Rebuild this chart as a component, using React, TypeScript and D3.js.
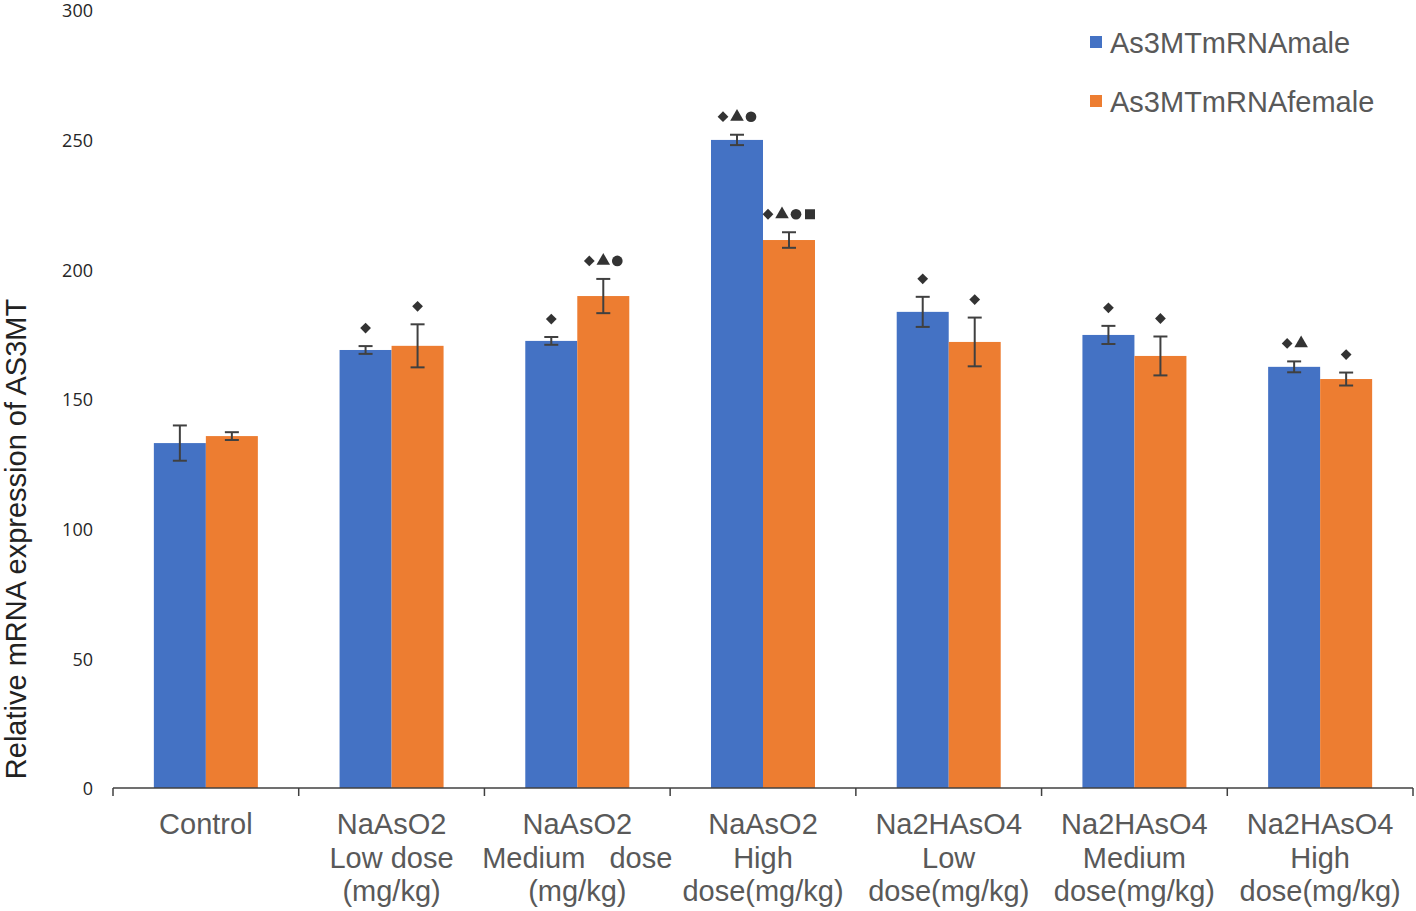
import React from "react";
import * as d3 from "d3";

const categories: string[][] = [
  ["Control"],
  ["NaAsO2", "Low dose", "(mg/kg)"],
  ["NaAsO2", "Medium   dose", "(mg/kg)"],
  ["NaAsO2", "High", "dose(mg/kg)"],
  ["Na2HAsO4", "Low", "dose(mg/kg)"],
  ["Na2HAsO4", "Medium", "dose(mg/kg)"],
  ["Na2HAsO4", "High", "dose(mg/kg)"],
];
const seriesNames = ["As3MTmRNAmale", "As3MTmRNAfemale"];
const seriesColors = ["#4472C4", "#ED7D31"];
const maleValues = [133.0, 168.9, 172.4, 249.9, 183.6, 174.7, 162.4];
const maleErrors = [6.8, 1.5, 1.5, 2.0, 5.8, 3.5, 2.1];
const femaleValues = [135.7, 170.5, 189.7, 211.3, 172.0, 166.6, 157.7];
const femaleErrors = [1.5, 8.3, 6.6, 3.0, 9.4, 7.5, 2.5];
const maleMarks = ["", "D", "D", "DTC", "D", "D", "DT"];
const femaleMarks = ["", "D", "DTC", "DTCS", "D", "D", "D"];
const yTicks = [0, 50, 100, 150, 200, 250, 300];

const W = 1416;
const H = 911;
const left = 113;
const right = 1413;
const y0 = 788;
const yTop = 10;

export default function App() {
  const x = d3.scaleBand<number>().domain(d3.range(categories.length)).range([left, right]).padding(0);
  const bw = x.bandwidth();
  const xs = d3.scaleBand<number>().domain([0, 1]).range([bw * 0.22, bw * 0.78]).padding(0);
  const y = d3.scaleLinear().domain([0, 300]).range([y0, yTop]);

  const series = [
    { values: maleValues, errors: maleErrors, marks: maleMarks },
    { values: femaleValues, errors: femaleErrors, marks: femaleMarks },
  ];

  const symFor = (c: string) => {
    if (c === "D") return d3.symbol(d3.symbolSquare, 58)();
    if (c === "T") return d3.symbol(d3.symbolTriangle, 80)();
    if (c === "C") return d3.symbol(d3.symbolCircle, 90)();
    return d3.symbol(d3.symbolSquare, 100)();
  };

  const boundaries = d3.range(categories.length + 1).map((i) => left + i * bw);
  const font = "'Liberation Sans', Arial, sans-serif";

  return (
    <svg width={W} height={H} style={{ position: "absolute", left: 0, top: 0, background: "#fff" }}>
      {yTicks.map((t) => (
        <text key={t} x={93} y={y(t) + 1} dy="0.35em" textAnchor="end" fontFamily="'Open Sans', sans-serif" fontSize={18} fill="#262626">
          {t}
        </text>
      ))}
      <text
        transform={`translate(16, ${(y0 + 290) / 2}) rotate(-90)`}
        textAnchor="middle"
        dy="0.35em"
        fontFamily={font}
        fontSize={29}
        fill="#222"
      >
        Relative mRNA expression of AS3MT
      </text>
      {series.map((s, si) =>
        s.values.map((v, ci) => {
          const bx = (x(ci) as number) + (xs(si) as number);
          const w = xs.bandwidth();
          const cx = bx + w / 2;
          const eTop = y(v + s.errors[ci]);
          const eBot = y(v - s.errors[ci]);
          const marks = s.marks[ci].split("").filter(Boolean);
          const spacing = 14;
          const mStart = cx - ((marks.length - 1) * spacing) / 2;
          const my = eTop - 18;
          return (
            <g key={`${si}-${ci}`}>
              <rect x={bx} y={y(v)} width={w} height={y0 - y(v)} fill={seriesColors[si]} />
              <line x1={cx} x2={cx} y1={eTop} y2={eBot} stroke="#404040" strokeWidth={2} />
              <line x1={cx - 7} x2={cx + 7} y1={eTop} y2={eTop} stroke="#404040" strokeWidth={2} />
              <line x1={cx - 7} x2={cx + 7} y1={eBot} y2={eBot} stroke="#404040" strokeWidth={2} />
              {marks.map((m, mi) => (
                <path
                  key={mi}
                  d={symFor(m) as string}
                  transform={`translate(${mStart + mi * spacing}, ${my}) ${m === "D" ? "rotate(45)" : ""}`}
                  fill="#333"
                />
              ))}
            </g>
          );
        })
      )}
      <line x1={left} x2={right} y1={y0} y2={y0} stroke="#404040" strokeWidth={1.5} />
      {boundaries.map((bx, i) => (
        <line key={i} x1={bx} x2={bx} y1={y0} y2={y0 + 8} stroke="#404040" strokeWidth={1.5} />
      ))}
      {categories.map((lines, ci) => (
        <text key={ci} textAnchor="middle" fontFamily={font} fontSize={29} fill="#595959">
          {lines.map((ln, li) => (
            <tspan key={li} x={(x(ci) as number) + bw / 2} y={834 + li * 33.5} style={{ whiteSpace: "pre" }}>
              {ln}
            </tspan>
          ))}
        </text>
      ))}
      {seriesNames.map((n, i) => (
        <g key={n} transform={`translate(1090, ${42 + i * 59})`}>
          <rect x={0} y={-6} width={12} height={12} fill={seriesColors[i]} />
          <text x={20} y={1} dy="0.35em" fontFamily={font} fontSize={29} fill="#595959">
            {n}
          </text>
        </g>
      ))}
    </svg>
  );
}
